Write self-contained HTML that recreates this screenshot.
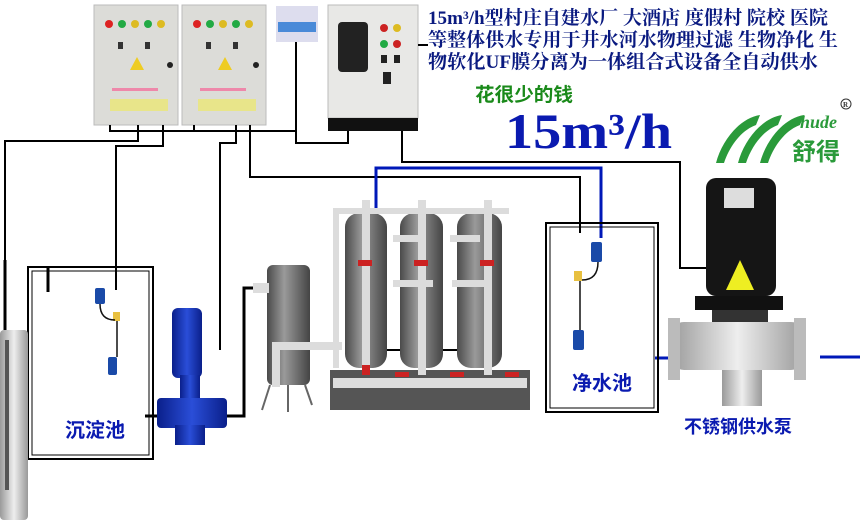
<!DOCTYPE html>
<html><head><meta charset="utf-8"><style>
html,body{margin:0;padding:0;background:#fff;width:860px;height:526px;overflow:hidden}
svg{display:block}
text{font-family:"Liberation Serif","Noto Serif CJK SC",serif;font-weight:bold}
.cj{font-family:"Liberation Sans","Noto Sans CJK SC",sans-serif;font-weight:bold}
</style></head><body>
<svg width="860" height="526" viewBox="0 0 860 526" xmlns="http://www.w3.org/2000/svg">
<defs>
<linearGradient id="tank" x1="0" x2="1"><stop offset="0" stop-color="#4a4a4a"/><stop offset=".4" stop-color="#9a9a9a"/><stop offset="1" stop-color="#444"/></linearGradient>
<linearGradient id="steel" x1="0" x2="1"><stop offset="0" stop-color="#9a9a9a"/><stop offset=".5" stop-color="#eee"/><stop offset="1" stop-color="#999"/></linearGradient>
<linearGradient id="blu" x1="0" x2="1"><stop offset="0" stop-color="#0a1f8a"/><stop offset=".5" stop-color="#2a4ed8"/><stop offset="1" stop-color="#0a1f8a"/></linearGradient>
</defs>
<rect x="94" y="5" width="84" height="120" fill="#dcdcd8" stroke="#bbb"/>
<rect x="182" y="5" width="84" height="120" fill="#dcdcd8" stroke="#bbb"/>
<g>
<circle cx="109" cy="24" r="4" fill="#d22"/><circle cx="122" cy="24" r="4" fill="#2a4"/><circle cx="135" cy="24" r="4" fill="#db2"/><circle cx="148" cy="24" r="4" fill="#2a4"/><circle cx="161" cy="24" r="4" fill="#db2"/>
<circle cx="197" cy="24" r="4" fill="#d22"/><circle cx="210" cy="24" r="4" fill="#2a4"/><circle cx="223" cy="24" r="4" fill="#db2"/><circle cx="236" cy="24" r="4" fill="#2a4"/><circle cx="249" cy="24" r="4" fill="#db2"/>
<rect x="118" y="42" width="5" height="7" fill="#333"/><rect x="145" y="42" width="5" height="7" fill="#333"/>
<rect x="206" y="42" width="5" height="7" fill="#333"/><rect x="233" y="42" width="5" height="7" fill="#333"/>
<polygon points="137,57 130,70 144,70" fill="#ec2"/><polygon points="225,57 218,70 232,70" fill="#ec2"/>
<circle cx="170" cy="65" r="3" fill="#222"/><circle cx="256" cy="65" r="3" fill="#222"/>
<rect x="112" y="88" width="46" height="3" fill="#e8a"/><rect x="200" y="88" width="46" height="3" fill="#e8a"/>
<rect x="110" y="99" width="58" height="12" fill="#e8e58a"/><rect x="198" y="99" width="58" height="12" fill="#e8e58a"/>
</g>
<rect x="276" y="6" width="42" height="36" fill="#dde"/>
<rect x="278" y="22" width="38" height="10" fill="#4a8ad8"/>
<rect x="328" y="5" width="90" height="113" fill="#e8e8e6" stroke="#bbb"/>
<rect x="328" y="118" width="90" height="13" fill="#111"/>
<rect x="338" y="22" width="30" height="50" rx="4" fill="#222"/>
<circle cx="384" cy="28" r="4" fill="#c22"/><circle cx="397" cy="28" r="4" fill="#db2"/>
<circle cx="384" cy="44" r="4" fill="#2a4"/><circle cx="397" cy="44" r="4" fill="#c22"/>
<rect x="381" y="55" width="6" height="8" fill="#222"/><rect x="394" y="55" width="6" height="8" fill="#222"/>
<rect x="383" y="72" width="8" height="12" fill="#222"/>
<g fill="none" stroke="#000" stroke-width="2">
<path d="M110 125V131H296"/>
<path d="M138 125V141H5V330"/>
<path d="M163 125V146H116V290"/>
<path d="M194 125V131"/>
<path d="M236 125V143H220V350"/>
<path d="M250 125V177H580V233"/>
<path d="M296 42V143H348V131"/>
<path d="M402 131V162H680V268H706"/>
<path d="M418 45H428"/>
<path d="M145 416H244V288H256" stroke-width="3"/>
<path d="M348 340L380 350H480"/>
</g>
<path d="M376 218V168H601V238" fill="none" stroke="#0018b8" stroke-width="3"/>
<path d="M655 358H668M820 357H860" stroke="#0018b8" stroke-width="3"/>
<text x="428" y="24" font-size="19" fill="#0a1a80" textLength="400" lengthAdjust="spacingAndGlyphs">15m³/h型村庄自建水厂 大酒店 度假村 院校 医院</text>
<text x="428" y="46" font-size="19" fill="#0a1a80" textLength="410" lengthAdjust="spacingAndGlyphs">等整体供水专用于井水河水物理过滤 生物净化 生</text>
<text x="428" y="68" font-size="19" fill="#0a1a80" textLength="390" lengthAdjust="spacingAndGlyphs">物软化UF膜分离为一体组合式设备全自动供水</text>
<text x="475" y="101" font-size="19" fill="#1a8a1a" class="cj" textLength="98" lengthAdjust="spacingAndGlyphs">花很少的钱</text>
<text x="505" y="148" font-size="50" fill="#0a1ab0" textLength="167" lengthAdjust="spacingAndGlyphs">15m³/h</text>
<g fill="#2a9a3a">
<path d="M716 163C722 140 740 118 760 115L756 125C742 130 730 145 724 163Z"/>
<path d="M738 163C744 140 762 118 782 115L778 125C764 130 752 145 746 163Z"/>
<path d="M760 163C766 140 784 118 804 115L800 125C786 130 774 145 768 163Z"/>
</g>
<text x="800" y="128" font-size="18" fill="#2a9a3a" font-style="italic">hude</text>
<text x="792" y="160" font-size="24" fill="#2a9a3a" class="cj">舒得</text>
<circle cx="846" cy="104" r="5" fill="none" stroke="#333"/><text x="843" y="107" font-size="7" fill="#333">R</text>
<rect x="28" y="267" width="125" height="192" fill="none" stroke="#000" stroke-width="2"/>
<rect x="32" y="271" width="117" height="184" fill="none" stroke="#000" stroke-width="1"/>
<path d="M48 267V292" stroke="#000" stroke-width="3"/>
<path d="M5 260V330" stroke="#000" stroke-width="3"/>
<rect x="95" y="288" width="10" height="16" rx="2" fill="#1a4aa8"/>
<rect x="113" y="312" width="7" height="9" fill="#e8c040"/>
<rect x="108" y="357" width="9" height="18" rx="2" fill="#1a4aa8"/>
<path d="M117 321V357M100 304Q100 320 115 320" fill="none" stroke="#111" stroke-width="1.5"/>
<text x="65" y="437" font-size="20" fill="#0a1ab0" class="cj">沉淀池</text>
<rect x="0" y="330" width="28" height="190" rx="4" fill="url(#steel)"/>
<rect x="5" y="340" width="4" height="150" fill="#555"/>
<rect x="172" y="308" width="30" height="70" rx="6" fill="url(#blu)"/>
<rect x="180" y="375" width="20" height="40" fill="url(#blu)"/>
<rect x="157" y="398" width="70" height="30" rx="4" fill="url(#blu)"/>
<rect x="175" y="425" width="30" height="20" fill="url(#blu)"/>
<rect x="267" y="265" width="43" height="120" rx="6" fill="url(#tank)"/>
<rect x="253" y="283" width="16" height="10" fill="#ddd"/>
<path d="M270 385L262 410M305 385L312 405M288 385V412" stroke="#666" stroke-width="2"/>
<rect x="330" y="370" width="200" height="40" fill="#555"/>
<rect x="333" y="378" width="194" height="10" fill="#ddd"/>
<rect x="345" y="213" width="42" height="155" rx="14" fill="url(#tank)"/>
<rect x="400" y="213" width="43" height="155" rx="14" fill="url(#tank)"/>
<rect x="457" y="213" width="45" height="155" rx="14" fill="url(#tank)"/>
<g fill="#dcdcdc">
<rect x="333" y="208" width="176" height="6"/>
<rect x="333" y="208" width="6" height="160"/>
<rect x="362" y="200" width="8" height="175"/>
<rect x="418" y="200" width="8" height="175"/>
<rect x="484" y="200" width="8" height="175"/>
<rect x="272" y="342" width="70" height="8"/>
<rect x="272" y="342" width="8" height="45"/>
<rect x="393" y="235" width="30" height="7"/><rect x="450" y="235" width="30" height="7"/>
<rect x="393" y="280" width="40" height="7"/><rect x="452" y="280" width="40" height="7"/>
</g>
<g fill="#c22"><rect x="358" y="260" width="14" height="6"/><rect x="414" y="260" width="14" height="6"/><rect x="480" y="260" width="14" height="6"/><rect x="362" y="365" width="8" height="10"/><rect x="395" y="372" width="14" height="5"/><rect x="450" y="372" width="14" height="5"/><rect x="505" y="372" width="14" height="5"/></g>
<rect x="546" y="223" width="112" height="189" fill="none" stroke="#000" stroke-width="2"/>
<rect x="550" y="227" width="104" height="181" fill="none" stroke="#000" stroke-width="1"/>
<rect x="591" y="242" width="11" height="20" rx="2" fill="#1a4aa8"/>
<rect x="574" y="271" width="8" height="10" fill="#e8c040"/>
<rect x="573" y="330" width="11" height="20" rx="2" fill="#1a4aa8"/>
<path d="M580 281V330M598 262Q598 280 582 280" fill="none" stroke="#111" stroke-width="1.5"/>
<text x="572" y="390" font-size="20" fill="#0a1ab0" class="cj">净水池</text>
<rect x="706" y="178" width="70" height="118" rx="10" fill="#151515"/>
<rect x="724" y="188" width="30" height="20" fill="#ddd"/>
<polygon points="740,260 726,290 754,290" fill="#ee2"/>
<rect x="695" y="296" width="88" height="14" fill="#111"/>
<rect x="712" y="310" width="56" height="22" fill="#333"/>
<rect x="670" y="322" width="135" height="48" rx="14" fill="url(#steel)"/>
<rect x="668" y="318" width="12" height="62" fill="#bbb"/>
<rect x="794" y="318" width="12" height="62" fill="#bbb"/>
<rect x="722" y="370" width="40" height="36" fill="url(#steel)"/>
<text x="738" y="433" font-size="18" fill="#0a1ab0" text-anchor="middle" class="cj">不锈钢供水泵</text>
</svg>
</body></html>
